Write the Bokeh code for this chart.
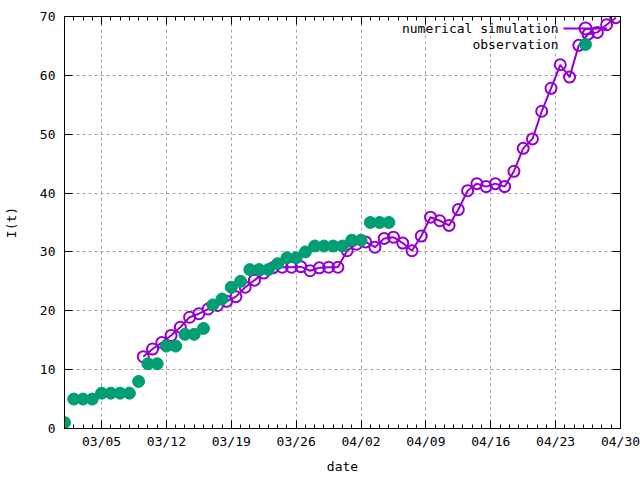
import pandas as pd
from bokeh.plotting import figure
from bokeh.core.properties import value
from bokeh.models import (FixedTicker, DatetimeTickFormatter, Range1d, DatetimeAxis,
                          LinearAxis, Legend, LegendItem, ColumnDataSource, Label)
from bokeh.embed import file_html
from bokeh.resources import INLINE

# ---- data ----
obs_dates = pd.date_range("2020-03-01", "2020-04-05", freq="D")
obs_values = [1, 5, 5, 5, 6, 6, 6, 6, 8, 11, 11, 14, 14, 16, 16, 17, 21, 22, 24, 25,
              27, 27, 27, 28, 29, 29, 30, 31, 31, 31, 31, 32, 32, 35, 35, 35]

sim_dates = pd.date_range("2020-03-10", "2020-04-30", freq="D")
sim_values = [12.2, 13.5, 14.6, 15.8, 17.2, 18.9, 19.5, 20.3, 20.9, 21.6,
              22.4, 24.0, 25.2, 26.4, 27.3, 27.4, 27.4, 27.5, 26.8, 27.3,
              27.4, 27.4,
              30.2, 31.3, 31.7, 30.8, 32.3, 32.5, 31.5, 30.2, 32.7, 35.9,
              35.3, 34.5, 37.2, 40.4, 41.6, 41.1, 41.6, 41.1, 43.7, 47.6,
              49.2, 53.9, 57.8, 61.8, 59.7, 65.1, 67.0, 67.3, 68.6, 69.8]

x_tick_dates = ["2020-03-05", "2020-03-12", "2020-03-19", "2020-03-26", "2020-04-02",
                "2020-04-09", "2020-04-16", "2020-04-23", "2020-04-30"]
y_ticks = [0, 10, 20, 30, 40, 50, 60, 70]
series_names = ["numerical simulation", "observation"]

PURPLE = "#9400D3"
GREEN = "#009E73"
FONT = "DejaVu Sans Mono"


def ms(ts):
    return pd.Timestamp(ts).value / 1e6


obs_src = ColumnDataSource(dict(x=obs_dates, y=obs_values))
# simulation samples sit half a day before each date mark
sim_src = ColumnDataSource(dict(x=sim_dates - pd.Timedelta(hours=12), y=sim_values))

x_start = pd.Timestamp("2020-03-01")
x_end = pd.Timestamp("2020-04-30")

p = figure(width=640, height=480, x_axis_type="datetime",
           x_range=Range1d(x_start, x_end), y_range=Range1d(0, 70),
           output_backend="svg", toolbar_location=None,
           min_border_left=61, min_border_right=20, min_border_top=16, min_border_bottom=52)

major = [ms(d) for d in x_tick_dates]
minor = [ms(d) for d in pd.date_range(x_start, x_end, freq="D")]
xticker = FixedTicker(ticks=major, minor_ticks=minor)
yticker = FixedTicker(ticks=y_ticks)

fmt = "%m/%d"
formatter = DatetimeTickFormatter(microseconds=fmt, milliseconds=fmt, seconds=fmt, minsec=fmt,
                                  minutes=fmt, hourmin=fmt, hours=fmt, days=fmt,
                                  months=fmt, years=fmt)

p.xaxis.ticker = xticker
p.xaxis.formatter = formatter
p.yaxis.ticker = yticker

for ax in (p.xaxis[0], p.yaxis[0]):
    ax.major_tick_in = 8
    ax.major_tick_out = 0
    ax.minor_tick_in = 4
    ax.minor_tick_out = 0
    ax.axis_line_color = "black"
    ax.major_tick_line_color = "black"
    ax.minor_tick_line_color = "black"
    ax.major_label_text_font = FONT
    ax.major_label_text_font_size = "13px"
    ax.major_label_text_color = "black"
    ax.axis_label_text_font = FONT
    ax.axis_label_text_font_size = "13px"
    ax.axis_label_text_font_style = "normal"
    ax.axis_label_text_color = "black"

p.yaxis.minor_tick_line_color = None
p.xaxis.major_label_standoff = 5
p.yaxis.major_label_standoff = 9
p.xaxis.axis_label = "date"
p.yaxis.axis_label = "I(t)"
p.xaxis.axis_label_standoff = 7
p.yaxis.axis_label_standoff = 18

# mirrored ticks on top and right (no labels)
top = DatetimeAxis(ticker=xticker, formatter=formatter,
                   major_label_overrides={t: "" for t in major},
                   major_label_standoff=0, major_tick_in=8, major_tick_out=0,
                   minor_tick_in=4, minor_tick_out=0, axis_line_color="black")
p.add_layout(top, "above")
right = LinearAxis(ticker=yticker, major_label_overrides={t: "" for t in y_ticks},
                   major_label_standoff=0, major_tick_in=8, major_tick_out=0,
                   minor_tick_line_color=None, axis_line_color="black")
p.add_layout(right, "right")

p.xgrid.ticker = xticker
p.ygrid.ticker = yticker
for g in (p.xgrid[0], p.ygrid[0]):
    g.grid_line_color = "#a0a0a0"
    g.grid_line_dash = "3 3"
    g.grid_line_width = 1

p.outline_line_color = "black"
p.background_fill_color = "white"
p.border_fill_color = "white"

sim_line = p.line("x", "y", source=sim_src, line_color=PURPLE, line_width=2)
sim_pts = p.scatter("x", "y", source=sim_src, marker="circle", size=11,
                    fill_color=None, line_color=PURPLE, line_width=2)
obs_pts = p.scatter("x", "y", source=obs_src, marker="circle", size=12,
                    fill_color=GREEN, line_color=GREEN)

# legend samples (glyphs only) on the right, texts right-aligned to their left
legend_renderers = [[sim_line, sim_pts], [obs_pts]]
legend_y = [385, 369]
for rends, ly in zip(legend_renderers, legend_y):
    lg = Legend(items=[LegendItem(label=value(""), renderers=rends)],
                location=(499, ly), glyph_width=44, glyph_height=30, label_height=16,
                label_width=0, label_standoff=0,
                border_line_color=None, background_fill_alpha=0, padding=0, spacing=0, margin=0)
    p.add_layout(lg)

for name, yy in zip(series_names, [400, 384]):
    p.add_layout(Label(x=494, y=yy, x_units="screen", y_units="screen", text=name,
                       text_align="right", text_baseline="middle", text_font=FONT,
                       text_font_size="13px", text_color="black"))

open("out.html", "w").write(file_html(p, INLINE))
